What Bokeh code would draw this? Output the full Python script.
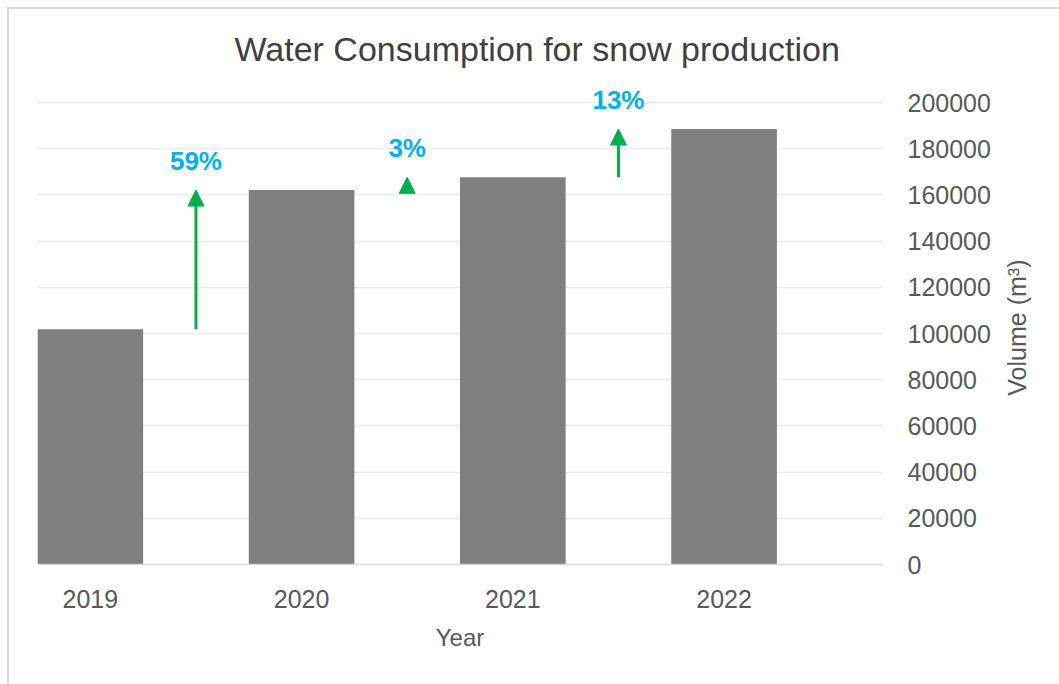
import math
from bokeh.plotting import figure
from bokeh.layouts import row
from bokeh.models import (Arrow, NormalHead, ColumnDataSource, Range1d, FixedTicker,
                          BasicTickFormatter, Label)
from bokeh.embed import file_html
from bokeh.resources import INLINE

# ---- data ----
years = ["2019", "2020", "2021", "2022"]
volumes = [101800, 162100, 167600, 188500]
change_labels = ["59%", "3%", "13%"]
y_ticks = [0, 20000, 40000, 60000, 80000, 100000, 120000, 140000, 160000, 180000, 200000]
y_title = "Volume (m³)"

FONT = "Liberation Sans"
GREEN = "#00B050"
BLUE = "#00B0F0"
TXT = "#595959"

xpos = list(range(len(years)))

W_MAIN, W_SIDE, H = 995, 64, 684
# frame: 200000 at y≈102, 0 at y≈564; extra headroom above the top gridline for labels
TOP, BOTTOM = 70, 120
frame_h = H - TOP - BOTTOM
y_end = 200000 * frame_h / 462.0

fig = figure(width=W_MAIN, height=H, output_backend="svg", toolbar_location=None,
             x_range=Range1d(-0.25, len(years) - 0.25), y_range=Range1d(0, y_end),
             y_axis_location="right",
             min_border_left=37, min_border_right=W_MAIN - 882,
             min_border_top=TOP, min_border_bottom=BOTTOM)

fig.border_fill_color = None
fig.background_fill_color = "white"
fig.outline_line_color = None

# title
fig.title.text = "Water Consumption for snow production"
fig.title.text_font = FONT
fig.title.text_font_size = "34px"
fig.title.text_font_style = "normal"
fig.title.text_color = "#404040"
fig.title.align = "left"
fig.title.offset = 197
fig.title.standoff = 6

# bars
src = ColumnDataSource(dict(x=xpos, top=volumes))
fig.vbar(x="x", top="top", bottom=0, width=0.5, source=src, fill_color="#7F7F7F", line_color=None)

# arrows between years
arrow_x = [i + 0.5 for i in xpos[:-1]]
asrc = ColumnDataSource(dict(x=arrow_x, y0=volumes[:-1], y1=volumes[1:]))
fig.add_layout(Arrow(end=NormalHead(size=16, fill_color=GREEN, line_color=GREEN, line_width=1),
                     x_start="x", y_start="y0", x_end="x", y_end="y1", source=asrc,
                     line_color=GREEN, line_width=3))
for xa, ya, lab in zip(arrow_x, volumes[1:], change_labels):
    fig.add_layout(Label(x=xa, y=ya, text=lab, y_offset=29,
                         text_align="center", text_baseline="alphabetic",
                         text_font=FONT, text_font_style="bold", text_font_size="26px",
                         text_color=BLUE))

# axes
fig.xaxis.ticker = FixedTicker(ticks=xpos)
fig.xaxis.major_label_overrides = {i: y for i, y in zip(xpos, years)}
fig.xaxis.axis_label = "Year"
fig.xaxis.axis_line_color = "#D9D9D9"
fig.xaxis.axis_line_width = 1.5
fig.xaxis.major_tick_line_color = None
fig.xaxis.minor_tick_line_color = None
fig.xaxis.major_label_standoff = 19
fig.xaxis.axis_label_standoff = 13

fig.yaxis.ticker = FixedTicker(ticks=y_ticks)
fig.yaxis.formatter = BasicTickFormatter(use_scientific=False)
fig.yaxis.axis_line_color = None
fig.yaxis.major_tick_line_color = None
fig.yaxis.minor_tick_line_color = None
fig.yaxis.major_label_standoff = 19

for ax in (fig.xaxis, fig.yaxis):
    ax.major_label_text_font = FONT
    ax.major_label_text_font_size = "25px"
    ax.major_label_text_color = TXT
    ax.axis_label_text_font = FONT
    ax.axis_label_text_font_size = "24px"
    ax.axis_label_text_font_style = "normal"
    ax.axis_label_text_color = TXT

fig.xgrid.visible = False
fig.ygrid.grid_line_color = "#EBEBEB"
fig.ygrid.grid_line_width = 1.5

# narrow side strip carrying the y-axis title (reads bottom-to-top)
side = figure(width=W_SIDE, height=H, output_backend="svg", toolbar_location=None,
              x_range=Range1d(0, W_SIDE), y_range=Range1d(0, H),
              x_axis_type=None, y_axis_type=None, min_border=0)
side.title.visible = False
side.grid.visible = False
side.outline_line_color = None
side.border_fill_color = None
side.background_fill_color = None
side.add_layout(Label(x=21, y=H - 356, angle=math.pi / 2, text=y_title,
                      text_align="center", text_baseline="middle",
                      text_font=FONT, text_font_size="25px", text_color=TXT))

p = row(fig, side, spacing=0)
p.styles = {
    "background-color": "white",
    "background-image": "linear-gradient(#D9D9D9, #D9D9D9), linear-gradient(#D9D9D9, #D9D9D9)",
    "background-size": "100% 2px, 2px 100%",
    "background-position": "7px 7px, 7px 7px",
    "background-repeat": "no-repeat",
}

open("out.html", "w").write(file_html(p, INLINE))
